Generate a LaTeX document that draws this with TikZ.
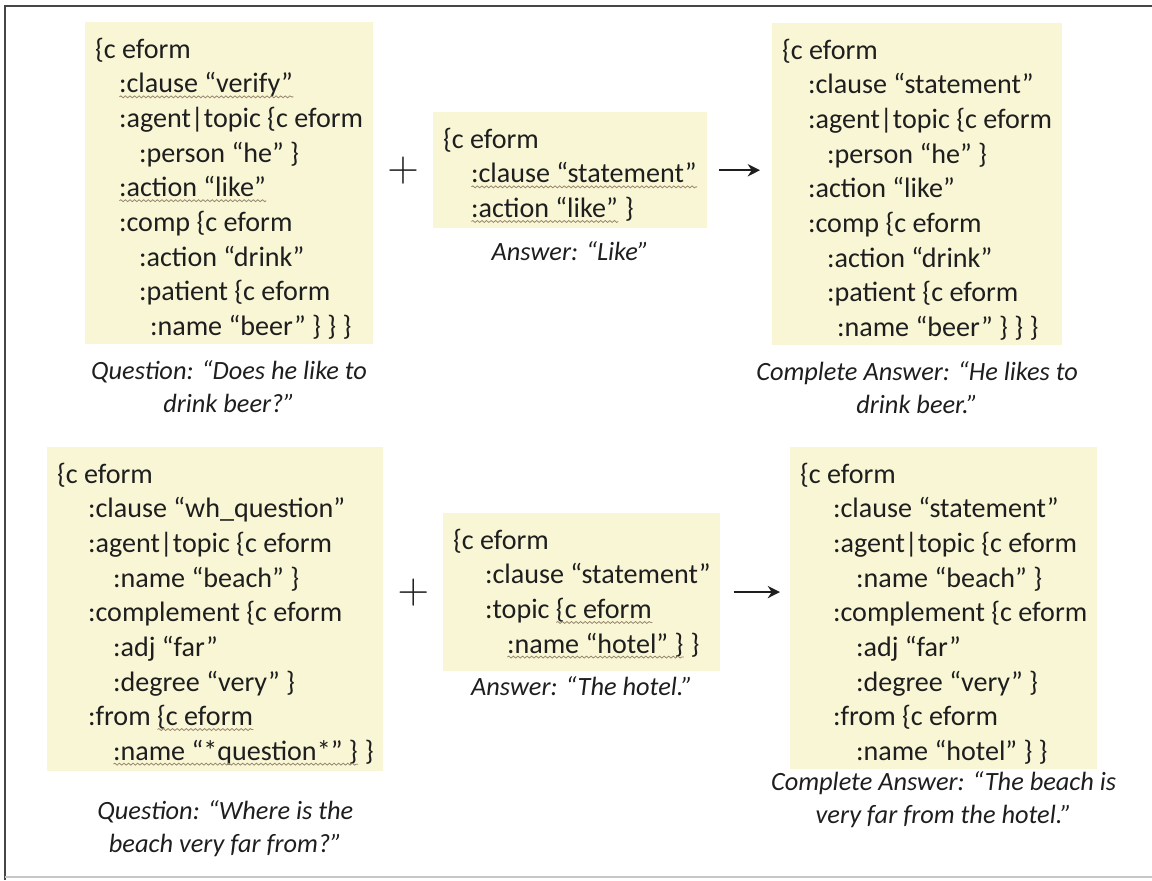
\documentclass[tikz,border=0pt]{standalone}
\usepackage{fontspec}
\setmainfont{Carlito}
\usepackage{tikz}
\usetikzlibrary{positioning,calc,arrows.meta,decorations.pathmorphing}
\usepackage{xcolor}
\definecolor{ink}{RGB}{30,30,30}
\definecolor{panel}{RGB}{249,246,214}
\definecolor{wave}{RGB}{150,134,108}
\definecolor{frame}{RGB}{70,70,70}
\tikzset{
  epanel/.style={fill=panel,text=ink,align=left,anchor=north west,
    inner xsep=5.5pt,inner ysep=3pt,font=\fontsize{16}{19.7}\selectfont},
  ecap/.style={text=ink,align=center,inner sep=0pt,
    font=\fontsize{15}{18.8}\selectfont\itshape},
  eplus/.style={text=ink,inner sep=0pt,font=\fontsize{26}{26}\selectfont},
  earrow/.style={ink,line width=1.1pt,-{Stealth[length=7pt,width=7pt]}},
  eframe/.style={frame,line width=1.1pt},
  efaint/.style={frame!30,line width=0.6pt},
  ewave/.style={wave,line width=0.45pt,decorate,
    decoration={snake,amplitude=0.55pt,segment length=2.6pt}},
}
\newcommand\ftop{\rule{0pt}{17.5pt}}
\newlength\wavelen
\newcommand\wavy[1]{\settowidth\wavelen{#1}\rlap{#1}%
  \tikz[baseline=0pt]\draw[ewave] (0pt,-2.2pt) -- (\wavelen,-2.2pt);}

\begin{document}
\begin{tikzpicture}[x=0.02cm,y=-0.02cm]
  \useasboundingbox (0,0) rectangle (1152,880);
  \draw[eframe] (5,880) -- (5,6) -- (1152,6);
  \draw[efaint] (5,877) -- (1152,877);
  % first example: yes/no question
  \node[epanel] (q1) at (85,22) {\ftop\{c eform\\
    \hspace*{.48cm}\wavy{:clause “verify”}\\
    \hspace*{.48cm}:agent|topic \{c eform\\
    \hspace*{.88cm}:person “he” \}\\
    \hspace*{.48cm}\wavy{:action “like”}\\
    \hspace*{.48cm}:comp \{c eform\\
    \hspace*{.88cm}:action “drink”\\
    \hspace*{.88cm}:patient \{c eform\\
    \hspace*{1.1cm}:name “beer” \} \} \}};
  \node[epanel] (a1) at (433,112) {\ftop\{c eform\\
    \hspace*{.56cm}\wavy{:clause “statement”}\\
    \hspace*{.56cm}\wavy{:action “like”} \}};
  \node[epanel] (c1) at (772,23) {\ftop\{c eform\\
    \hspace*{.52cm}:clause “statement”\\
    \hspace*{.52cm}:agent|topic \{c eform\\
    \hspace*{.9cm}:person “he” \}\\
    \hspace*{.52cm}:action “like”\\
    \hspace*{.52cm}:comp \{c eform\\
    \hspace*{.9cm}:action “drink”\\
    \hspace*{.9cm}:patient \{c eform\\
    \hspace*{1.1cm}:name “beer” \} \} \}};
  \node[ecap,below=8.6pt of q1] (qcap1) {Question: “Does he like to\\drink beer?”};
  \node[ecap,below=7pt of a1] (acap1) {Answer: “Like”};
  \node[ecap,below=8.6pt of c1] (ccap1) {Complete Answer: “He likes to\\drink beer.”};
  \node[eplus] (plus1) at ($(q1.east |- a1.west)!.5!(a1.west)$) {$+$};
  \draw[earrow,shorten <=.22cm,shorten >=.24cm] (a1.east) -- (a1.east -| c1.west);
  % second example: wh question
  \node[epanel] (q2) at (47,447) {\ftop\{c eform\\
    \hspace*{.62cm}:clause “wh\_question”\\
    \hspace*{.62cm}:agent|topic \{c eform\\
    \hspace*{1.12cm}:name “beach” \}\\
    \hspace*{.62cm}:complement \{c eform\\
    \hspace*{1.12cm}:adj “far”\\
    \hspace*{1.12cm}:degree “very” \}\\
    \hspace*{.62cm}:from \wavy{\{c eform}\\
    \hspace*{1.12cm}\wavy{:name “*question*” \}} \}};
  \node[epanel] (a2) at (443,513) {\ftop\{c eform\\
    \hspace*{.64cm}:clause “statement”\\
    \hspace*{.64cm}:topic \wavy{\{c eform}\\
    \hspace*{1.08cm}\wavy{:name “hotel” \}} \}\rule[-7pt]{0pt}{0pt}};
  \node[epanel] (c2) at (790,447) {\ftop\{c eform\\
    \hspace*{.66cm}:clause “statement”\\
    \hspace*{.66cm}:agent|topic \{c eform\\
    \hspace*{1.12cm}:name “beach” \}\\
    \hspace*{.66cm}:complement \{c eform\\
    \hspace*{1.12cm}:adj “far”\\
    \hspace*{1.12cm}:degree “very” \}\\
    \hspace*{.66cm}:from \{c eform\\
    \hspace*{1.12cm}:name “hotel” \} \}};
  \node[ecap,below=16.5pt of q2,xshift=.2cm] (qcap2) {Question: “Where is the\\beach very far from?”};
  \node[ecap,below=3pt of a2] (acap2) {Answer: “The hotel.”};
  \node[ecap,below=1pt of c2] (ccap2) {Complete Answer: “The beach is\\very far from the hotel.”};
  \node[eplus] (plus2) at ($(q2.east |- a2.west)!.5!(a2.west)$) {$+$};
  \draw[earrow,shorten <=.26cm,shorten >=.2cm] (a2.east) -- (a2.east -| c2.west);
\end{tikzpicture}
\end{document}
